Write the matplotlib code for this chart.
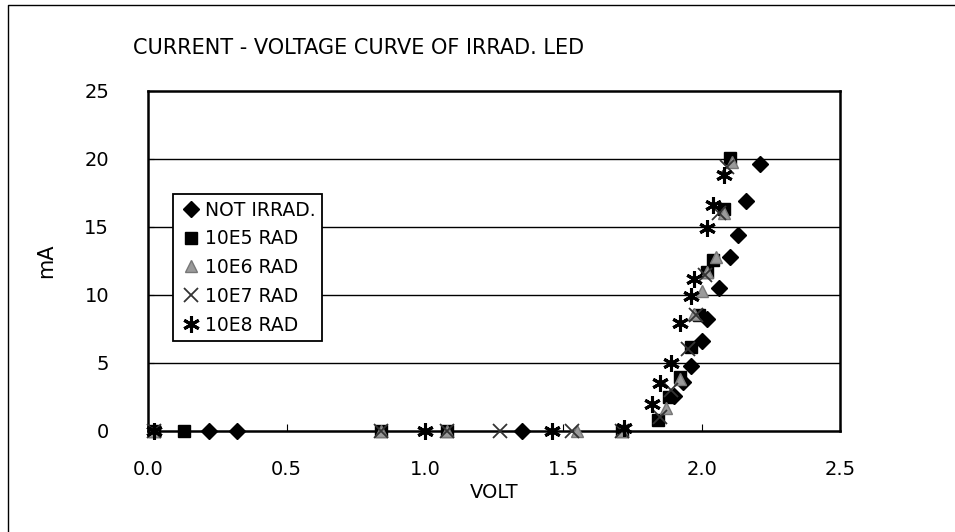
import matplotlib.pyplot as plt
from matplotlib.lines import Line2D

plt.rcParams['font.family'] = ['DejaVu Sans']

not_irrad_v = [0.22, 0.32, 1.35, 1.90, 1.93, 1.96, 2.00, 2.02, 2.06, 2.10, 2.13, 2.16, 2.21]
not_irrad_i = [0.0, 0.0, 0.0, 2.6, 3.6, 4.8, 6.6, 8.2, 10.5, 12.8, 14.4, 16.9, 19.6]

rad_e5_v = [0.02, 0.13, 0.84, 1.08, 1.71, 1.84, 1.88, 1.92, 1.96, 1.99, 2.02, 2.04, 2.08, 2.10]
rad_e5_i = [0.0, 0.0, 0.0, 0.0, 0.0, 0.8, 2.5, 4.0, 6.2, 8.5, 11.7, 12.6, 16.3, 20.1]

rad_e6_v = [0.02, 0.84, 1.08, 1.55, 1.71, 1.87, 1.92, 1.97, 2.00, 2.02, 2.05, 2.08, 2.11]
rad_e6_i = [0.0, 0.0, 0.0, 0.0, 0.0, 1.7, 3.8, 8.6, 10.3, 11.7, 12.8, 16.0, 19.8]

rad_e7_v = [0.02, 0.84, 1.08, 1.27, 1.53, 1.71, 1.85, 1.89, 1.95, 1.98, 2.01, 2.06, 2.09]
rad_e7_i = [0.0, 0.0, 0.0, 0.0, 0.0, 0.0, 1.0, 3.0, 6.0, 8.5, 11.5, 16.0, 19.4]

rad_e8_v = [0.02, 1.00, 1.46, 1.72, 1.82, 1.85, 1.89, 1.92, 1.96, 1.97, 2.02, 2.04, 2.08]
rad_e8_i = [0.0, 0.0, 0.0, 0.2, 2.0, 3.5, 5.0, 7.9, 9.9, 11.2, 14.9, 16.6, 18.8]

labels = ['NOT IRRAD.', '10E5 RAD', '10E6 RAD', '10E7 RAD', '10E8 RAD']
x_ticks = [0.0, 0.5, 1.0, 1.5, 2.0, 2.5]
y_ticks = [0, 5, 10, 15, 20, 25]

fig = plt.figure(figsize=(9.55, 5.32), dpi=100)
ax = fig.add_axes([0.155, 0.190, 0.725, 0.639])

# page frame: only the left and top edges show on the scan
fig.lines.append(Line2D([0.008, 0.008, 1.0], [0.0, 0.99, 0.99], transform=fig.transFigure,
                        color='black', linewidth=1.0))

for y in y_ticks[1:-1]:
    ax.axhline(y, color='black', linewidth=1.0, zorder=1)

kw = dict(linestyle='none', clip_on=False, zorder=3)
ax.plot(not_irrad_v, not_irrad_i, marker='D', markersize=8, color='black', label=labels[0], **kw)
ax.plot(rad_e5_v, rad_e5_i, marker='s', markersize=9, color='black', label=labels[1], **kw)
ax.plot(rad_e6_v, rad_e6_i, marker='^', markersize=9, color='#9a9a9a',
        markeredgecolor='#777777', label=labels[2], **kw)
ax.plot(rad_e7_v, rad_e7_i, marker='x', markersize=10, markeredgewidth=1.3,
        color='#333333', label=labels[3], **kw)
ax.plot(rad_e8_v, rad_e8_i, marker=(6, 2, 0), markersize=12, markeredgewidth=2.2,
        color='black', label=labels[4], **kw)

ax.set_xlim(0, 2.5)
ax.set_ylim(0, 25)
ax.set_xticks(x_ticks)
ax.set_xticklabels(['%.1f' % v for v in x_ticks])
ax.set_yticks(y_ticks)
ax.tick_params(axis='x', direction='in', length=5, pad=21, labelsize=14)
ax.tick_params(axis='y', direction='in', length=4, pad=28, labelsize=14)
for s in ax.spines.values():
    s.set_linewidth(1.8)

ax.set_xlabel('VOLT', fontsize=14, labelpad=3)
ax.set_ylabel('mA', fontsize=15, labelpad=20)

fig.text(133 / 955, 1 - 48 / 532, 'CURRENT - VOLTAGE CURVE OF IRRAD. LED',
         fontsize=15, ha='left', va='center')

leg = ax.legend(loc='upper left', bbox_to_anchor=(0.036, 0.697), fontsize=13.5,
                frameon=True, fancybox=False, edgecolor='black', framealpha=1,
                handletextpad=0.15, handlelength=1.2, borderpad=0.35,
                labelspacing=0.52, borderaxespad=0)
leg.get_frame().set_linewidth(1.3)

fig.savefig('out.png', dpi=100)
